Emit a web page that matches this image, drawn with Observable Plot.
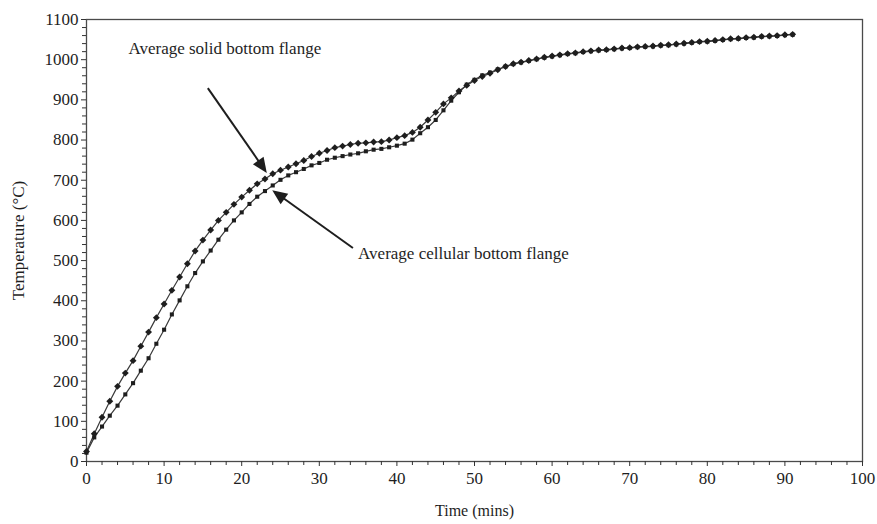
<!DOCTYPE html>
<html>
<head>
<meta charset="utf-8">
<script src="https://cdn.jsdelivr.net/npm/d3@7"></script>
<script src="https://cdn.jsdelivr.net/npm/@observablehq/plot@0.6"></script>
<style>
  html, body { margin: 0; padding: 0; background: #fff; }
  #chart svg { display: block; }
</style>
</head>
<body>
<div id="chart"></div>
<script>
// Furnace test: average bottom-flange temperatures of solid and cellular beams
const minutes = [
  0, 1, 2, 3, 4, 5, 6, 7, 8, 9, 10, 11, 12, 13, 14, 15, 16, 17, 18, 19,
  20, 21, 22, 23, 24, 25, 26, 27, 28, 29, 30, 31, 32, 33, 34, 35, 36, 37, 38, 39,
  40, 41, 42, 43, 44, 45, 46, 47, 48, 49, 50, 51, 52, 53, 54, 55, 56, 57, 58, 59,
  60, 61, 62, 63, 64, 65, 66, 67, 68, 69, 70, 71, 72, 73, 74, 75, 76, 77, 78, 79,
  80, 81, 82, 83, 84, 85, 86, 87, 88, 89, 90, 91
];

const solidFlange = [
  25, 69, 110, 150, 187, 220, 251, 287, 322, 358, 392, 426, 459, 492, 524, 551, 576, 600, 620, 640,
  658, 675, 691, 703, 716, 725, 733, 741, 749, 759, 767, 774, 781, 785, 789, 792, 793, 795, 796, 800,
  806, 811, 819, 832, 850, 869, 890, 905, 922, 936, 948, 958, 966, 975, 983, 990, 994, 998, 1002, 1006,
  1009, 1012, 1015, 1017, 1020, 1022, 1024, 1025, 1027, 1029, 1030, 1032, 1033, 1034, 1036, 1037, 1039, 1041, 1043, 1045,
  1046, 1048, 1050, 1052, 1053, 1055, 1056, 1058, 1059, 1060, 1062, 1063
];

const cellularFlange = [
  22, 60, 87, 114, 139, 167, 195, 226, 257, 293, 328, 366, 401, 436, 469, 498, 525, 552, 577, 600,
  620, 641, 659, 673, 687, 701, 712, 720, 728, 737, 743, 751, 756, 760, 764, 767, 772, 776, 778, 782,
  786, 791, 801, 817, 832, 850, 874, 898, 919, 938, 950, 961, 968, 976, 983, 989, 993, 997, 1001, 1005,
  1008, 1011, 1014, 1016, 1019, 1021, 1023, 1024, 1026, 1028, 1029, 1031, 1032, 1033, 1035, 1036, 1038, 1040, 1042, 1044,
  1045, 1047, 1049, 1051, 1052, 1054, 1055, 1057, 1058, 1059, 1061, 1062
];

// Axis ticks
const xMajorTicks = [0, 10, 20, 30, 40, 50, 60, 70, 80, 90, 100];
const xMinorTicks = [2, 4, 6, 8, 12, 14, 16, 18, 22, 24, 26, 28, 32, 34, 36, 38, 42, 44, 46, 48,
  52, 54, 56, 58, 62, 64, 66, 68, 72, 74, 76, 78, 82, 84, 86, 88, 92, 94, 96, 98];
const yMajorTicks = [0, 100, 200, 300, 400, 500, 600, 700, 800, 900, 1000, 1100];
const yMinorTicks = [20, 40, 60, 80, 120, 140, 160, 180, 220, 240, 260, 280, 320, 340, 360, 380,
  420, 440, 460, 480, 520, 540, 560, 580, 620, 640, 660, 680, 720, 740, 760, 780,
  820, 840, 860, 880, 920, 940, 960, 980, 1020, 1040, 1060, 1080];

// Callouts: label text, label anchor (minutes, °C), arrow tail and arrow tip (minutes, °C)
const calloutLabels = ["Average solid bottom flange", "Average cellular bottom flange"];
const calloutLabelTime = [5.4, 35.0];
const calloutLabelTemp = [1028, 517];
const arrowTailTime = [15.7, 34.4];
const arrowTailTemp = [928, 530];
const arrowTipTime = [23.3, 24.0];
const arrowTipTemp = [717, 674];

const solidRows = minutes.map((t, i) => ({t, v: solidFlange[i]}));
const cellularRows = minutes.map((t, i) => ({t, v: cellularFlange[i]}));
const callouts = calloutLabels.map((text, i) => ({
  text,
  lx: calloutLabelTime[i], ly: calloutLabelTemp[i],
  x1: arrowTailTime[i], y1: arrowTailTemp[i],
  x2: arrowTipTime[i], y2: arrowTipTemp[i]
}));

const ink = "#1e1e1e";
const serif = "'Liberation Serif', 'Times New Roman', serif";

// Arrows with filled triangular heads, positioned through the plot's scales
function filledArrows(index, scales) {
  const sx = scales.x, sy = scales.y;
  const g = d3.create("svg:g");
  const headLen = 15, headHalf = 6.5;
  for (const c of callouts) {
    const ax = sx(c.x1), ay = sy(c.y1), bx = sx(c.x2), by = sy(c.y2);
    const dx = bx - ax, dy = by - ay, len = Math.hypot(dx, dy);
    const ux = dx / len, uy = dy / len;
    const baseX = bx - ux * headLen, baseY = by - uy * headLen;
    g.append("line")
      .attr("x1", ax).attr("y1", ay).attr("x2", baseX + ux * 2).attr("y2", baseY + uy * 2)
      .attr("stroke", ink).attr("stroke-width", 2);
    g.append("path")
      .attr("d", `M${bx},${by}L${baseX - uy * headHalf},${baseY + ux * headHalf}L${baseX + uy * headHalf},${baseY - ux * headHalf}Z`)
      .attr("fill", ink);
  }
  return g.node();
}

const chart = Plot.plot({
  width: 877,
  height: 524,
  marginLeft: 86,
  marginRight: 15,
  marginTop: 19,
  marginBottom: 63,
  style: {fontFamily: serif, background: "#fff", color: ink},
  x: {domain: [0, 100]},
  y: {domain: [0, 1100]},
  marks: [
    Plot.frame({stroke: "#4a4a4a", strokeWidth: 1.3}),
    Plot.axisX({ticks: xMinorTicks, tickSize: 4, text: null, label: null, stroke: "#333"}),
    Plot.axisX({ticks: xMajorTicks, tickSize: 5, tickPadding: 5, tickFormat: d => String(d),
      fontSize: 17, label: null, stroke: "#333"}),
    Plot.axisY({ticks: yMinorTicks, tickSize: 4, text: null, label: null, stroke: "#333"}),
    Plot.axisY({ticks: yMajorTicks, tickSize: 5, tickPadding: 3, tickFormat: d => String(d),
      fontSize: 17, label: null, stroke: "#333"}),
    Plot.text(["Time (mins)"], {frameAnchor: "bottom", dy: 54, fontSize: 16, fill: ink}),
    Plot.text(["Temperature (°C)"], {frameAnchor: "left", textAnchor: "middle", dx: -68, rotate: -90,
      fontSize: 17, fill: ink}),

    Plot.line(cellularRows, {x: "t", y: "v", stroke: "#3a3a3a", strokeWidth: 1.2}),
    Plot.line(solidRows, {x: "t", y: "v", stroke: "#3a3a3a", strokeWidth: 1.2}),
    Plot.dot(cellularRows, {x: "t", y: "v", symbol: "square", r: 2.3, fill: ink, stroke: "none"}),
    Plot.dot(solidRows, {x: "t", y: "v", symbol: "diamond2", r: 3.1, fill: ink, stroke: "none"}),

    filledArrows,
    Plot.text(callouts, {x: "lx", y: "ly", text: "text", textAnchor: "start", fontSize: 17, fill: ink})
  ]
});

document.getElementById("chart").appendChild(chart);
</script>
</body>
</html>
